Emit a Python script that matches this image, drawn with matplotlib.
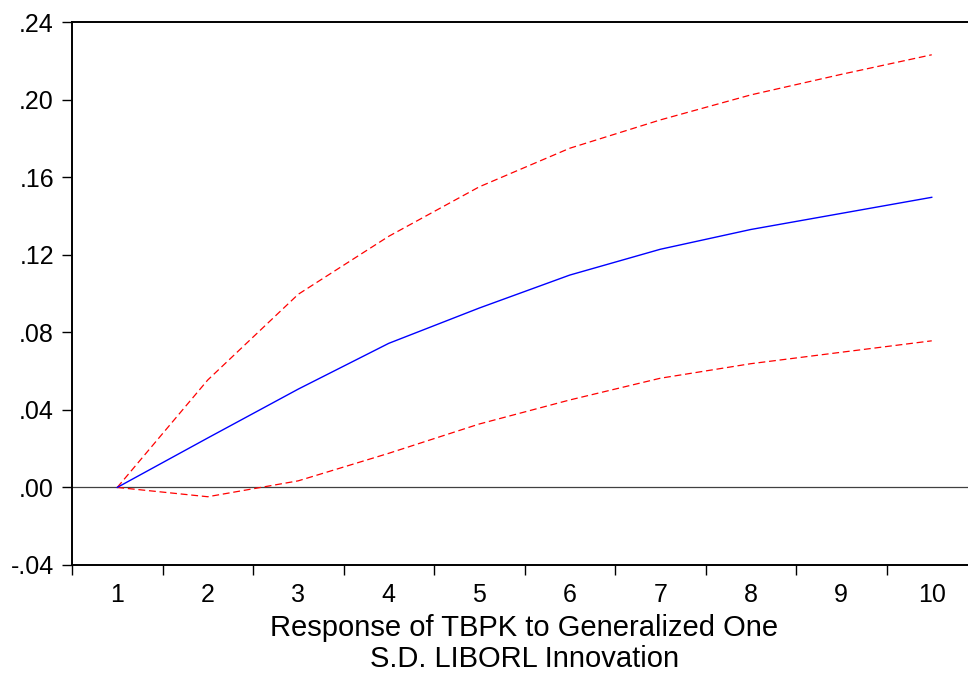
import matplotlib
matplotlib.use('Agg')
import matplotlib.pyplot as plt
from matplotlib.ticker import FuncFormatter, MultipleLocator

plt.rcParams['font.family'] = ['Liberation Sans', 'DejaVu Sans']

periods = [1, 2, 3, 4, 5, 6, 7, 8, 9, 10]
response = [0.0, 0.0255, 0.0507, 0.0743, 0.0925, 0.1095, 0.1228, 0.1330, 0.1413, 0.1496]
upper = [0.0, 0.0554, 0.0996, 0.1295, 0.1550, 0.1749, 0.1895, 0.2024, 0.2130, 0.2231]
lower = [0.0, -0.0048, 0.0034, 0.0176, 0.0327, 0.0451, 0.0563, 0.0638, 0.0697, 0.0756]
title = 'Response of TBPK to Generalized One\nS.D. LIBORL Innovation'

fig = plt.figure(figsize=(9.68, 6.81), dpi=100)
# axes run past the right edge of the picture, like the cropped original
ax = fig.add_axes([72/968, 116/681, 905/968, 543/681])

ax.axhline(0, color='#404040', lw=0.9, zorder=1)
ax.plot(periods, upper, color='red', lw=0.9, dashes=(5.5, 3))
ax.plot(periods, lower, color='red', lw=0.9, dashes=(5.5, 3))
ax.plot(periods, response, color='blue', lw=1.0)

ax.set_xlim(0.5, 10.5)
ax.set_ylim(-0.04, 0.24)

ax.set_xticks(periods)
ax.set_xticks([p - 0.5 for p in periods] + [10.5], minor=True)
ax.tick_params(axis='x', which='major', length=0, labelsize=18, pad=13)
ax.tick_params(axis='x', which='minor', length=7, width=1, direction='out')
ax.yaxis.set_major_locator(MultipleLocator(0.04))
ax.yaxis.set_major_formatter(FuncFormatter(
    lambda v, pos: ('-' if v < -1e-9 else '') + ('%.2f' % abs(v)).lstrip('0')))
ax.tick_params(axis='y', length=7, width=1, labelsize=18, pad=6)

for s in ax.spines.values():
    s.set_linewidth(1.4)

ax.set_xlabel(title, fontsize=21, labelpad=5, linespacing=1.15)

plt.savefig('out.png', dpi=100)
